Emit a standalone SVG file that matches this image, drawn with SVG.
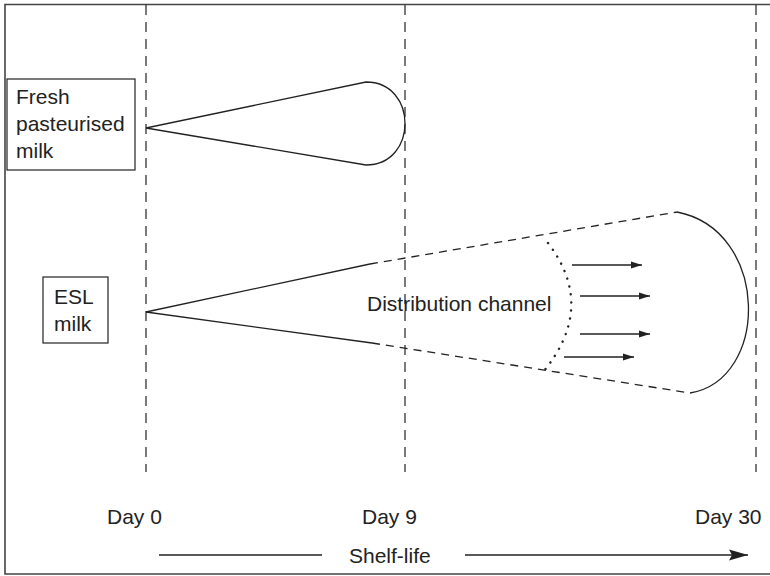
<svg xmlns="http://www.w3.org/2000/svg" width="770" height="576" viewBox="0 0 770 576">
  <style>
    .lbl { font-family: "Liberation Sans", Arial, sans-serif; font-size: 21px; fill: #222; }
    .frame { fill: none; stroke: #444; stroke-width: 1.6; }
    .box { fill: #fff; stroke: #222; stroke-width: 1.2; }
    .grid { stroke: #333; stroke-width: 1.3; stroke-dasharray: 10 7; fill: none; }
    .solid { stroke: #222; stroke-width: 1.3; fill: none; }
    .dash { stroke: #222; stroke-width: 1.3; stroke-dasharray: 8 6; fill: none; }
    .dots { stroke: #222; stroke-width: 2.4; stroke-linecap: round; stroke-dasharray: 0.1 8; fill: none; }
    .arr { stroke: #222; stroke-width: 1.3; fill: none; marker-end: url(#head); }
  </style>
  <defs>
    <marker id="head" markerUnits="userSpaceOnUse" markerWidth="12" markerHeight="8" refX="11" refY="4" orient="auto">
      <path d="M0,0.5 L11,4 L0,7.5 z" fill="#222"/>
    </marker>
    <marker id="bighead" markerUnits="userSpaceOnUse" markerWidth="20" markerHeight="12" refX="19" refY="6" orient="auto">
      <path d="M0,0.5 L19,6 L0,11.5 L3,6 z" fill="#222"/>
    </marker>
  </defs>

  <rect width="770" height="576" fill="#fff"/>
  <!-- outer frame (open on the right) -->
  <path class="frame" d="M770,4.5 H5 V574 H770"/>

  <!-- day markers -->
  <g id="timeline">
    <line class="grid" x1="146" y1="5" x2="146" y2="472"/>
    <line class="grid" x1="405" y1="5" x2="405" y2="472"/>
    <line class="grid" x1="756" y1="5" x2="756" y2="472"/>
    <text class="lbl" x="107" y="524">Day 0</text>
    <text class="lbl" x="362" y="524">Day 9</text>
    <text class="lbl" x="695" y="524">Day 30</text>
  </g>

  <!-- fresh pasteurised milk -->
  <g id="fresh">
    <rect class="box" x="7" y="79" width="128" height="91"/>
    <text class="lbl" x="16" y="104">Fresh</text>
    <text class="lbl" x="16" y="131">pasteurised</text>
    <text class="lbl" x="16" y="158">milk</text>
  </g>

  <!-- ESL milk -->
  <g id="esl">
    <rect class="box" x="43" y="277" width="65" height="66"/>
    <text class="lbl" x="54" y="304">ESL</text>
    <text class="lbl" x="54" y="331">milk</text>
  </g>

  <g id="distribution">
    <text class="lbl" x="367" y="311">Distribution channel</text>
  </g>

  <g id="connectors">
    <!-- fresh milk shelf-life cone -->
    <path class="solid" d="M146,128 L366,82 C418,82 418,165 366,165 L146,128"/>
    <!-- ESL cone -->
    <path class="solid" d="M146,312 L370,264"/>
    <path class="solid" d="M146,312 L372,343"/>
    <path class="dash" d="M370,264 L677,212"/>
    <path class="dash" d="M372,343 L690,393"/>
    <path class="solid" d="M677,212 C770,230 770,380 690,393"/>
    <!-- distribution front -->
    <path class="dots" d="M548,243 Q597,307 543,372"/>
    <line class="arr" x1="572" y1="265" x2="642" y2="265"/>
    <line class="arr" x1="580" y1="296" x2="650" y2="296"/>
    <line class="arr" x1="580" y1="334" x2="650" y2="334"/>
    <line class="arr" x1="564" y1="357" x2="634" y2="357"/>
    <!-- shelf-life axis -->
    <line class="solid" x1="159" y1="555" x2="322" y2="555"/>
    <line class="solid" x1="465" y1="555" x2="748" y2="555" marker-end="url(#bighead)"/>
  </g>
  <text class="lbl" x="349" y="563">Shelf-life</text>
</svg>
